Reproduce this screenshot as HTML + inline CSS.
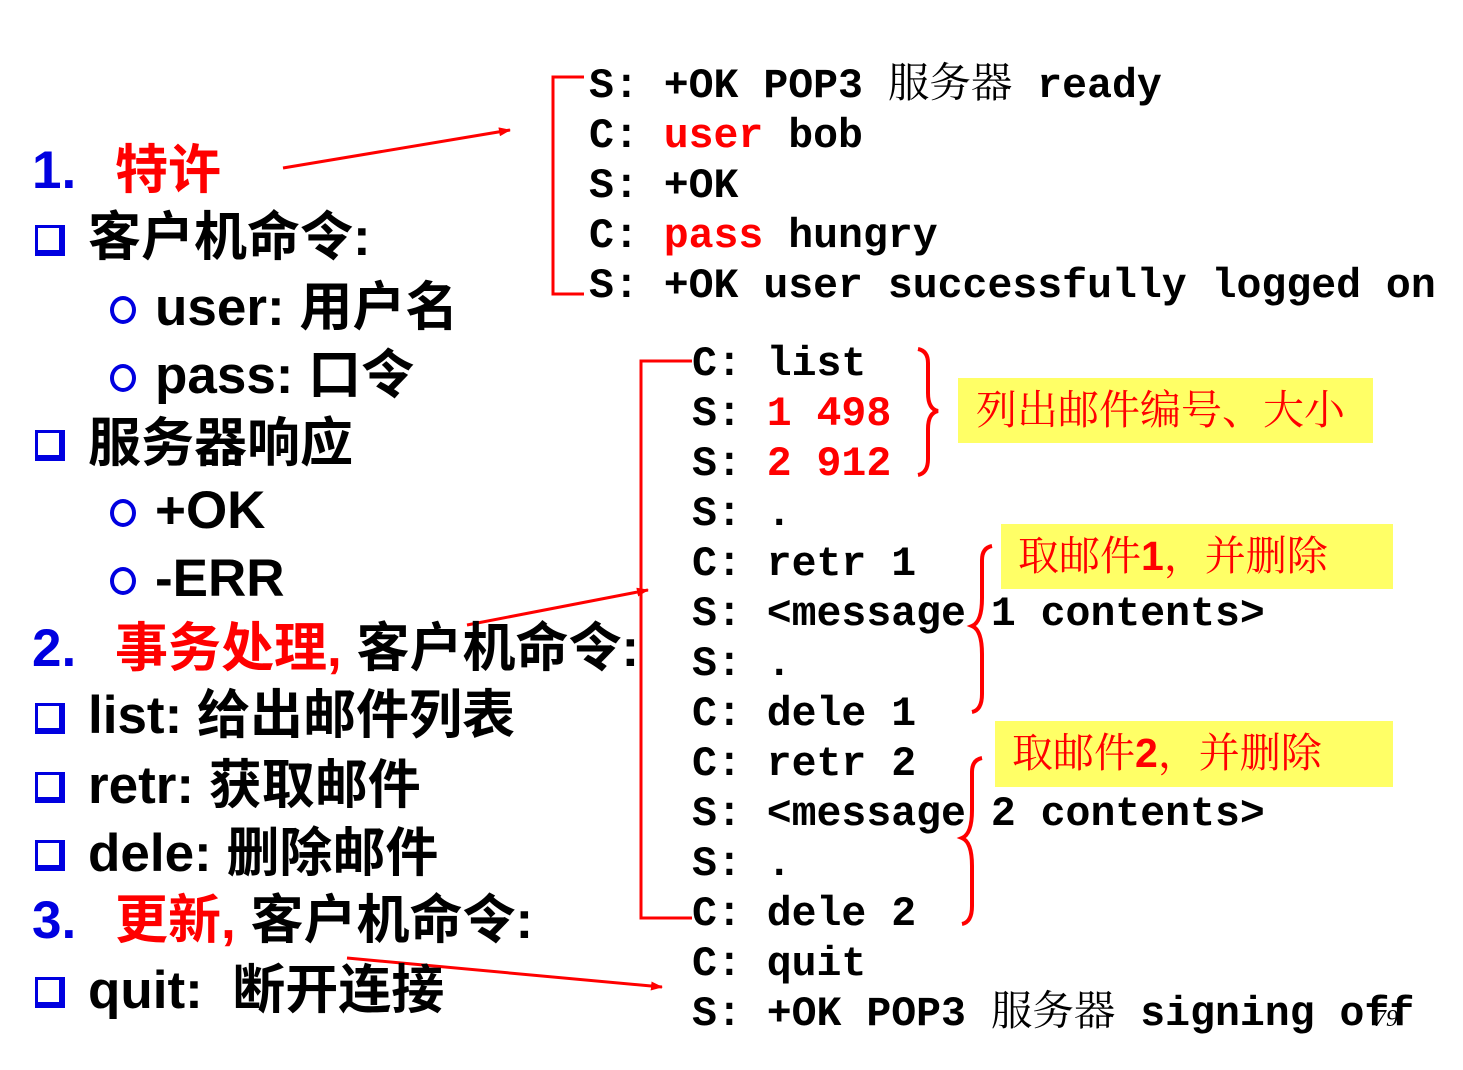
<!DOCTYPE html>
<html><head><meta charset="utf-8"><style>
body{margin:0;width:1463px;height:1070px;background:#fff;position:relative;overflow:hidden}
.m{position:absolute;font-family:"Liberation Mono","Noto Serif CJK SC",monospace;font-weight:bold;font-size:41.5px;line-height:50px;white-space:pre;color:#000}
.m .c{font-weight:normal}
.l{position:absolute;font-family:"Liberation Sans","Noto Sans CJK SC",sans-serif;font-weight:bold;font-size:53px;line-height:64px;white-space:pre;color:#000}
.b{color:#0000e0}
.r{color:#f00}
.sq{position:absolute;width:30px;height:31px;border:3px solid #0000e0;border-right-width:6px;border-bottom-width:6px;box-sizing:border-box}
.ci{position:absolute;width:26px;height:28px;border:4px solid #0000e0;border-radius:50%;box-sizing:border-box}
.y{position:absolute;background:#ffff66;font-family:"Liberation Serif","Noto Serif CJK SC",serif;color:#f00;font-size:41px;line-height:64px;white-space:pre}
</style></head><body>
<svg width="1463" height="1070" style="position:absolute;left:0;top:0">
<defs><marker id="a" markerWidth="12" markerHeight="9" refX="11" refY="4.5" orient="auto" markerUnits="userSpaceOnUse"><path d="M0,0 L12,4.5 L0,9z" fill="#f00"/></marker></defs>
<g stroke="#f00" stroke-width="3" fill="none">
<path d="M584,77 H553 V294 H584"/>
<path d="M692,361 H641 V918 H692"/>
<line x1="283" y1="168" x2="510" y2="130" marker-end="url(#a)"/>
<line x1="467" y1="625" x2="648" y2="590" marker-end="url(#a)"/>
<line x1="347" y1="958" x2="662" y2="987" marker-end="url(#a)"/>
<path stroke-width="4" d="M918,349 q10,2 10,14 v30 q0,16 10,18 q-10,2 -10,18 v30 q0,14 -10,16"/>
<path stroke-width="4" d="M992,546 q-10,2 -10,14 v38 q0,24 -10,28 q10,4 10,28 v40 q0,16 -10,18"/>
<path stroke-width="4" d="M982,758 q-10,2 -10,14 v38 q0,24 -10,28 q10,4 10,28 v40 q0,16 -10,18"/>
</g></svg>

<div class="m" style="left:589px;top:62px">S: +OK POP3 <span class="c">服务器</span> ready
C: <span class="r">user</span> bob
S: +OK
C: <span class="r">pass</span> hungry
S: +OK user successfully logged on</div>

<div class="m" style="left:692px;top:340px">C: list
S: <span class="r">1 498</span>
S: <span class="r">2 912</span>
S: .
C: retr 1
S: &lt;message 1 contents&gt;
S: .
C: dele 1
C: retr 2
S: &lt;message 2 contents&gt;
S: .
C: dele 2
C: quit
S: +OK POP3 <span class="c">服务器</span> signing off</div>
<div style="position:absolute;left:1374px;top:1006px;font:italic 24px 'Liberation Serif',serif">79</div>

<div class="y" style="left:958px;top:378px;width:415px;height:65px;padding-left:18px;box-sizing:border-box">列出邮件编号、大小</div>
<div class="y" style="left:1001px;top:524px;width:392px;height:65px;padding-left:17px;box-sizing:border-box">取邮件<b style="font-family:'Liberation Sans',sans-serif">1</b>，并删除</div>
<div class="y" style="left:995px;top:721px;width:398px;height:66px;padding-left:17px;box-sizing:border-box">取邮件<b style="font-family:'Liberation Sans',sans-serif">2</b>，并删除</div>

<div class="l b" style="left:32px;top:139px">1.</div>
<div class="l r" style="left:115px;top:139px">特许</div>
<div class="sq" style="left:35px;top:225px"></div>
<div class="l" style="left:88px;top:206px">客户机命令:</div>
<div class="ci" style="left:110px;top:296px"></div>
<div class="l" style="left:155px;top:276px">user: 用户名</div>
<div class="ci" style="left:110px;top:364px"></div>
<div class="l" style="left:155px;top:344px">pass: 口令</div>
<div class="sq" style="left:35px;top:430px"></div>
<div class="l" style="left:88px;top:412px">服务器响应</div>
<div class="ci" style="left:110px;top:499px"></div>
<div class="l" style="left:155px;top:479px">+OK</div>
<div class="ci" style="left:110px;top:567px"></div>
<div class="l" style="left:155px;top:547px">-ERR</div>
<div class="l b" style="left:32px;top:617px">2.</div>
<div class="l" style="left:115px;top:617px"><span class="r">事务处理,</span> 客户机命令:</div>
<div class="sq" style="left:35px;top:703px"></div>
<div class="l" style="left:88px;top:684px">list: 给出邮件列表</div>
<div class="sq" style="left:35px;top:772px"></div>
<div class="l" style="left:88px;top:754px">retr: 获取邮件</div>
<div class="sq" style="left:35px;top:840px"></div>
<div class="l" style="left:88px;top:822px">dele: 删除邮件</div>
<div class="l b" style="left:32px;top:889px">3.</div>
<div class="l" style="left:115px;top:889px"><span class="r">更新,</span> 客户机命令:</div>
<div class="sq" style="left:35px;top:977px"></div>
<div class="l" style="left:88px;top:959px">quit:  断开连接</div>
</body></html>
